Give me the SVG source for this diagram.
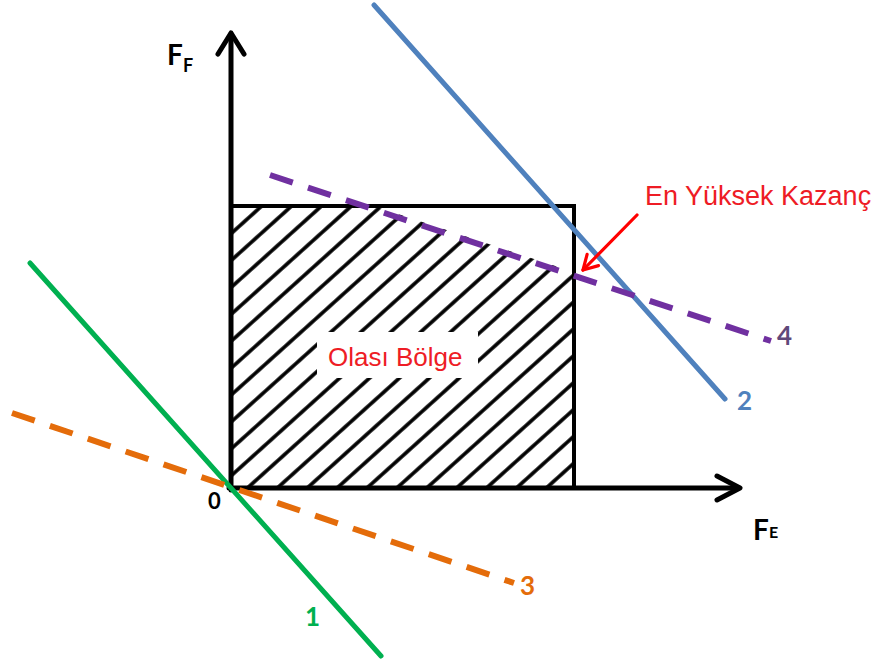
<svg xmlns="http://www.w3.org/2000/svg" width="878" height="662" viewBox="0 0 878 662">
  <style>
    .ax { stroke:#000; stroke-width:5; fill:none; stroke-linecap:round; stroke-linejoin:round; }
    .lbl { font-family:Lato, "Liberation Sans", sans-serif; font-weight:bold; }
    .red { font-family:"Liberation Sans", Arial, sans-serif; fill:#EE1C25; }
    .dash { stroke-dasharray:24 16; stroke-width:6; fill:none; }
  </style>
  <defs>
    <pattern id="hatch" patternUnits="userSpaceOnUse" width="20" height="20" patternTransform="translate(231,488) rotate(48)">
      <line x1="11" y1="-5" x2="11" y2="25" stroke="#000" stroke-width="3.6"/>
    </pattern>
    <clipPath id="feas">
      <polygon points="233,486 233,208 380,208 572,271.6 572,486"/>
    </clipPath>
    <marker id="redhead" markerWidth="20" markerHeight="20" refX="17" refY="10" orient="auto" markerUnits="userSpaceOnUse">
      <polyline points="3,2 17,10 3,18" fill="none" stroke="#FF0000" stroke-width="3.2" stroke-linecap="round" stroke-linejoin="round"/>
    </marker>
  </defs>
  <rect width="878" height="662" fill="#fff"/>

  <g id="feasible-region">
    <rect x="231" y="206" width="343" height="282" fill="url(#hatch)" clip-path="url(#feas)"/>
    <rect x="231" y="206" width="343" height="282" fill="none" stroke="#000" stroke-width="4"/>
    <rect x="317" y="332" width="161" height="46" fill="#fff"/>
    <text class="red" x="328" y="366" font-size="26">Olası Bölge</text>
  </g>

  <g id="axes">
    <line class="ax" x1="231" y1="490" x2="231" y2="34"/>
    <polyline class="ax" points="218,54 231,33 244,54"/>
    <line class="ax" x1="229" y1="488" x2="738" y2="488"/>
    <polyline class="ax" points="717,476 740,488 717,500"/>
    <text class="lbl" x="167" y="65" font-size="28">F</text>
    <text class="lbl" x="183" y="72" font-size="18">F</text>
    <text class="lbl" x="753" y="540" font-size="28">F</text>
    <text class="lbl" x="769" y="538" font-size="16">E</text>
    <text class="lbl" x="208" y="509" font-size="22">0</text>
  </g>

  <g id="connectors">
    <line id="line2" x1="374" y1="5" x2="725" y2="399" stroke="#4F81BD" stroke-width="5" stroke-linecap="round"/>
    <line id="line1" x1="30" y1="263" x2="381" y2="656" stroke="#00B050" stroke-width="5" stroke-linecap="round"/>
    <line id="line3" class="dash" x1="12" y1="413" x2="514" y2="583" stroke="#E46C0A"/>
    <line id="line4" class="dash" x1="270" y1="175" x2="771" y2="341" stroke="#7030A0"/>
    <line id="arrow" x1="637" y1="215" x2="583" y2="270" stroke="#FF0000" stroke-width="3.2" stroke-linecap="round" marker-end="url(#redhead)"/>
  </g>

  <g id="labels">
    <text class="lbl" x="305" y="626" font-size="26" fill="#00B050">1</text>
    <text class="lbl" x="737" y="410" font-size="26" fill="#4F81BD">2</text>
    <text class="lbl" x="520" y="595" font-size="26" fill="#E46C0A">3</text>
    <text class="lbl" x="777" y="345" font-size="26" fill="#5F497A">4</text>
    <text class="red" x="645" y="205" font-size="27">En Yüksek Kazanç</text>
  </g>
</svg>
